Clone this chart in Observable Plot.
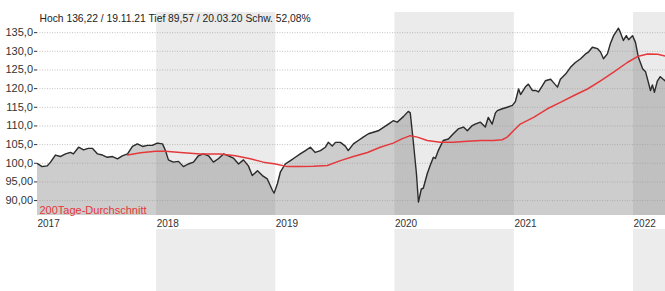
<!DOCTYPE html>
<html><head><meta charset="utf-8">
<script src="https://cdn.jsdelivr.net/npm/d3@7"></script>
<script src="https://cdn.jsdelivr.net/npm/@observablehq/plot@0.6"></script>
<style>body{margin:0;background:#fff} svg{display:block}</style>
</head><body><div id="chart"></div>
<script>
const priceDates = [
"2017-01-01","2017-01-15","2017-01-31","2017-02-10","2017-02-25","2017-03-12","2017-03-28","2017-04-12","2017-04-21","2017-05-07","2017-05-22","2017-06-06","2017-06-18","2017-07-04","2017-07-19","2017-08-03","2017-08-19","2017-09-03","2017-09-18","2017-10-04","2017-10-19","2017-11-03","2017-11-19","2017-12-04","2017-12-19",
"2018-01-03","2018-01-19","2018-01-28","2018-02-06","2018-02-21","2018-03-09","2018-03-24","2018-04-08","2018-04-24","2018-05-09","2018-05-24","2018-06-09","2018-06-24","2018-07-09","2018-07-25","2018-08-09","2018-08-24","2018-09-09","2018-09-24","2018-10-09","2018-10-21","2018-11-06","2018-11-21","2018-12-06","2018-12-22","2018-12-27",
"2019-01-06","2019-01-15","2019-01-30","2019-02-15","2019-03-02","2019-03-17","2019-04-02","2019-04-17","2019-05-02","2019-05-18","2019-06-02","2019-06-11","2019-06-23","2019-07-03","2019-07-18","2019-08-02","2019-08-11","2019-08-27","2019-09-11","2019-09-26","2019-10-12","2019-10-27","2019-11-11","2019-11-27","2019-12-12","2019-12-27",
"2020-01-08","2020-01-27","2020-02-11","2020-02-17","2020-02-26","2020-03-07","2020-03-13","2020-03-22","2020-03-28","2020-04-09","2020-04-18","2020-04-28","2020-05-04","2020-05-13","2020-05-28","2020-06-13","2020-06-28","2020-07-13","2020-07-29","2020-08-10","2020-08-25","2020-09-03","2020-09-19","2020-10-04","2020-10-13","2020-10-25","2020-11-04","2020-11-10","2020-11-25","2020-12-10","2020-12-26",
"2021-01-04","2021-01-14","2021-01-20","2021-02-04","2021-02-13","2021-02-25","2021-03-07","2021-03-16","2021-03-28","2021-04-06","2021-04-22","2021-05-01","2021-05-13","2021-05-22","2021-06-07","2021-06-22","2021-07-07","2021-07-23","2021-08-07","2021-08-16","2021-08-28","2021-09-13","2021-09-22","2021-10-01","2021-10-13","2021-10-22","2021-11-01","2021-11-16","2021-11-22","2021-12-01","2021-12-10","2021-12-17","2021-12-29",
"2022-01-07","2022-01-16","2022-01-29","2022-02-07","2022-02-16","2022-02-22","2022-02-28","2022-03-06","2022-03-15","2022-03-24","2022-04-02","2022-04-09"
];
const priceValues = [
99.9,99.1,99.3,100.3,102.2,101.8,102.5,102.9,102.5,104.3,103.6,104.0,104.0,102.5,102.2,101.6,101.8,101.2,102.0,102.5,104.5,105.2,104.5,104.8,104.8,
105.4,105.2,103.4,100.9,100.3,100.5,99.1,99.8,100.3,102.0,102.5,102.0,100.3,101.2,102.5,102.0,101.4,99.8,100.9,99.3,96.7,98.0,96.7,95.8,92.7,92.0,
94.5,97.6,99.8,100.7,101.6,102.5,103.4,104.3,102.9,103.4,104.3,105.6,104.6,105.6,105.6,104.6,103.4,105.2,106.1,107.0,107.9,108.3,108.7,109.6,110.5,111.4,
111.0,112.5,113.9,113.5,106.1,97.2,89.6,93.1,93.3,97.2,99.4,101.6,101.3,103.4,106.1,106.5,107.9,109.2,109.7,108.7,110.1,110.5,111.0,109.7,112.3,110.5,113.5,114.1,114.6,115.0,115.5,
116.5,119.9,118.4,120.5,121.2,119.5,119.5,119.1,120.8,122.1,122.5,121.6,120.4,122.5,123.9,125.7,127.0,128.0,129.3,129.8,131.1,130.7,129.8,128.0,129.3,132.0,134.2,136.2,135.0,132.9,134.2,133.1,134.2,
132.4,128.4,125.3,124.5,121.5,119.5,121.0,119.0,122.0,123.2,122.5,122.0
];
const maDates = [
"2017-10-04","2017-11-13","2017-12-29","2018-01-28","2018-03-15","2018-05-15","2018-07-15","2018-08-30","2018-10-15","2018-11-24","2018-12-31",
"2019-02-06","2019-03-17","2019-04-26","2019-06-08","2019-07-18","2019-08-27","2019-10-09","2019-11-17","2019-12-27",
"2020-01-24","2020-02-17","2020-03-10","2020-04-09","2020-05-19","2020-06-28","2020-08-10","2020-09-19","2020-10-28","2020-11-25","2020-12-10","2020-12-29",
"2021-01-19","2021-03-01","2021-04-12","2021-05-22","2021-07-01","2021-08-13","2021-09-22","2021-11-01","2021-12-13",
"2022-01-13","2022-02-13","2022-03-16","2022-04-09"
];
const maValues = [
102.2,102.8,103.2,103.2,102.9,102.5,102.5,102.0,101.2,100.3,99.8,
99.1,99.1,99.2,99.4,100.7,101.8,102.9,104.3,105.4,
106.6,107.4,107.0,106.1,105.6,105.6,105.9,106.1,106.1,106.3,107.0,108.7,
110.5,112.3,114.6,116.3,118.1,119.9,122.1,124.4,127.0,
128.6,129.3,129.2,128.7
];
const yearLabels = ["2017","2018","2019","2020","2021","2022"];
const shadedYears = ["2018","2020","2022"];
const yTicks = [90,95,100,105,110,115,120,125,130,135];
const yDomain = [86, 140.4];
const xDomain = [new Date("2017-01-01"), new Date("2022-04-09")];
const headerText = "Hoch 136,22 / 19.11.21 Tief 89,57 / 20.03.20 Schw. 52,08%";
const legendText = "200Tage-Durchschnitt";

const price = priceDates.map((d, i) => ({date: new Date(d), value: priceValues[i]}));
const ma = maDates.map((d, i) => ({date: new Date(d), value: maValues[i]}));
const yearStarts = yearLabels.map(y => new Date(y + "-01-01"));
const shaded = shadedYears.map(y => ({start: new Date(y + "-01-01"), end: new Date(Math.min(+new Date((+y + 1) + "-01-01"), +xDomain[1]))}));
const fmt = v => (v >= 100 ? v.toFixed(1) : v.toFixed(2)).replace(".", ",");
const font = "Liberation Sans, Arial, sans-serif";
const red = "#e5383b";

const mainChart = Plot.plot({
  width: 665, height: 229,
  marginTop: 12, marginBottom: 14, marginLeft: 37, marginRight: 0,
  style: {fontFamily: font, fontSize: "10px", color: "#333", background: "#fff"},
  x: {type: "utc", domain: xDomain},
  y: {domain: yDomain},
  marks: [
    Plot.rect(shaded, {x1: "start", x2: "end", fill: "#ebebeb"}),
    Plot.areaY(price, {x: "date", y1: yDomain[0], y2: "value", fill: "#777", fillOpacity: 0.37}),
    Plot.gridY(yTicks, {stroke: "#999", strokeDasharray: "1,1.5", strokeOpacity: 0.6}),
    Plot.line(price, {x: "date", y: "value", stroke: "#2b2b2b", strokeWidth: 1.4}),
    Plot.line(ma, {x: "date", y: "value", stroke: red, strokeWidth: 1.5}),
    Plot.axisY({ticks: yTicks, tickFormat: fmt, tickSize: 3, tickPadding: 1.5, label: null, fontSize: 11}),
    Plot.axisX({ticks: yearStarts, tickFormat: d3.utcFormat("%Y"), tickSize: 0, tickPadding: 4, textAnchor: "start", label: null, fontSize: 10}),
    Plot.text([headerText], {text: d => d, frameAnchor: "top-left", lineAnchor: "top", textAnchor: "start", dx: 2, dy: 2, fontSize: 10.3, fill: "#222"}),
    Plot.text([legendText], {text: d => d, frameAnchor: "bottom-left", lineAnchor: "bottom", textAnchor: "start", dx: 2, dy: -2, fontSize: 11, fill: red})
  ]
});

const volumePanel = Plot.plot({
  width: 665, height: 62,
  marginTop: 0, marginBottom: 0, marginLeft: 37, marginRight: 0,
  style: {background: "#fff"},
  x: {type: "utc", domain: xDomain, axis: null},
  marks: [
    Plot.rect(shaded, {x1: "start", x2: "end", fill: "#ececec"})
  ]
});

const el = document.getElementById("chart");
el.appendChild(mainChart);
el.appendChild(volumePanel);
</script></body></html>
